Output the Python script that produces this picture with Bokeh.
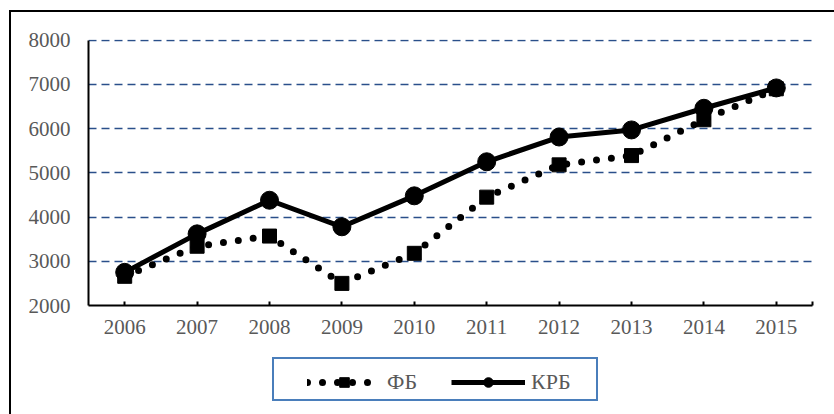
from bokeh.plotting import figure
from bokeh.layouts import column
from bokeh.models import Legend, LegendItem, FixedTicker, Range1d
from bokeh.embed import file_html
from bokeh.resources import INLINE

years = [2006, 2007, 2008, 2009, 2010, 2011, 2012, 2013, 2014, 2015]
fb = [2660, 3340, 3570, 2500, 3180, 4450, 5180, 5390, 6200, 6900]
krb = [2750, 3620, 4380, 3780, 4480, 5250, 5810, 5970, 6460, 6920]
y_ticks = [2000, 3000, 4000, 5000, 6000, 7000, 8000]
series_names = ["ФБ", "КРБ"]

FONT = "Liberation Serif"
FB_LINE = dict(line_color="black", line_width=7, line_dash="0 15", line_cap="round")
FB_MARK = dict(marker="square", size=14, fill_color="black", line_color="black")
KRB_LINE = dict(line_color="black", line_width=5)
KRB_MARK = dict(marker="circle", size=18, fill_color="black", line_color="black")

p = figure(width=834, height=345, output_backend="svg", toolbar_location=None,
           x_range=Range1d(years[0] - 0.5, years[-1] + 0.5),
           y_range=Range1d(y_ticks[0], y_ticks[-1] + 15),
           min_border_left=88, min_border_right=22, min_border_top=39, min_border_bottom=40)
p.outline_line_color = None
p.background_fill_alpha = 0
p.border_fill_alpha = 0

# axes
p.xaxis.ticker = FixedTicker(ticks=years + [years[-1] + 0.5])
overrides = {y: str(y) for y in years}
overrides[years[-1] + 0.5] = ""
p.xaxis.major_label_overrides = overrides
p.yaxis.ticker = FixedTicker(ticks=y_ticks)
p.yaxis.bounds = (y_ticks[0], y_ticks[-1])
for ax in (p.xaxis, p.yaxis):
    ax.axis_line_color = "black"
    ax.axis_line_width = 2
    ax.major_tick_line_color = "black"
    ax.major_tick_line_width = 2
    ax.minor_tick_line_color = None
    ax.major_label_text_font = FONT
    ax.major_label_text_font_size = "21px"
    ax.major_label_text_color = "#595959"
p.xaxis.major_tick_in = 4
p.xaxis.major_tick_out = 0
p.yaxis.major_tick_in = 0
p.yaxis.major_tick_out = 0
p.yaxis.major_label_standoff = 18
p.xaxis.major_label_standoff = 14

p.xgrid.grid_line_color = None
p.ygrid.grid_line_color = "#2a4f8a"
p.ygrid.grid_line_width = 1.6
p.ygrid.grid_line_dash = "8 5"

# series
p.line(years, fb, **FB_LINE)
p.scatter(years, fb, **FB_MARK)
p.line(years, krb, **KRB_LINE)
p.scatter(years, krb, **KRB_MARK)

# legend strip below the chart (its frame is aligned with the chart's frame by the column)
q = figure(width=834, height=69, output_backend="svg", toolbar_location=None,
           x_range=Range1d(0, 1), y_range=Range1d(0, 1),
           min_border_left=88, min_border_right=22, min_border_top=0, min_border_bottom=0)
q.axis.visible = False
q.grid.visible = False
q.outline_line_color = None
q.background_fill_alpha = 0
q.border_fill_alpha = 0
off = [-10]  # legend-only renderers, kept outside the visible range
r1 = q.line(off, off, **FB_LINE)
r2 = q.scatter(off, off, **FB_MARK)
r3 = q.line(off, off, **KRB_LINE)
r4 = q.scatter(off, off, **dict(KRB_MARK, size=15))
legend = Legend(items=[LegendItem(label=series_names[0], renderers=[r1, r2]),
                       LegendItem(label=series_names[1], renderers=[r3, r4])],
                location=(219, 19), orientation="horizontal",
                glyph_width=74, glyph_height=24, label_height=24,
                label_standoff=6, spacing=34, padding=4, margin=0,
                label_text_font=FONT, label_text_font_size="22px",
                label_text_color="#595959",
                border_line_color=None, background_fill_alpha=0)
q.add_layout(legend, "center")

# chart border (left/top) and legend frame drawn behind the transparent canvases
bk = "linear-gradient(#000,#000)"
bl = "linear-gradient(#4a7ebb,#4a7ebb)"
layout = column(p, q, spacing=0, styles={
    "background": ", ".join([
        f"{bk} 9px 10px / 2px 420px no-repeat",
        f"{bk} 9px 10px / 840px 2px no-repeat",
        f"{bl} 272px 357px / 326px 2px no-repeat",
        f"{bl} 272px 399px / 326px 2px no-repeat",
        f"{bl} 272px 357px / 2px 44px no-repeat",
        f"{bl} 596px 357px / 2px 44px no-repeat",
        "#ffffff",
    ])
})

open("out.html", "w").write(file_html(layout, INLINE))
